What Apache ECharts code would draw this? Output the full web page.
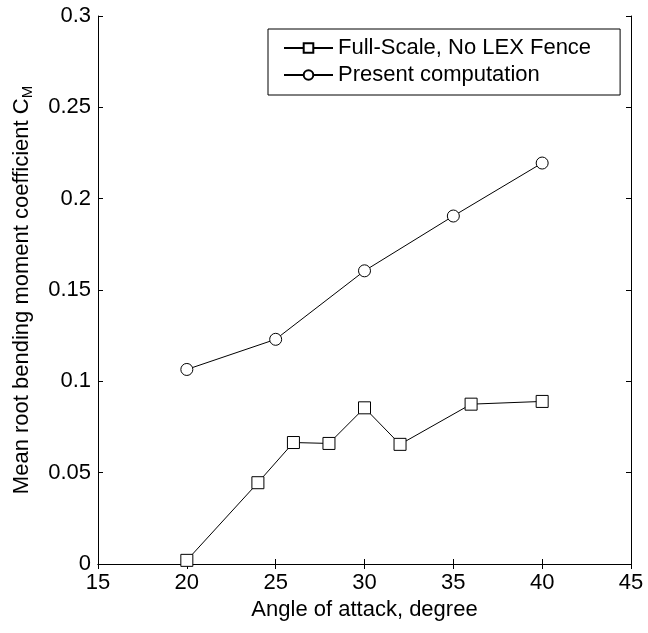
<!DOCTYPE html>
<html lang="en">
<head>
	<meta charset="UTF-8">
	<title>Root bending moment</title>
	<style>
		body { margin: 0; background: #fff; }
	</style>
</head>
<body>
	<div id="chart" style="width: 648px; height: 633px;"></div>
	<script src="https://cdn.jsdelivr.net/npm/echarts@6/dist/echarts.min.js"></script>
	<script>
		// values
		const fullScaleAlpha = [20, 24, 26, 28, 30, 32, 36, 40];
		const fullScaleCM = [0.002, 0.0445, 0.0665, 0.066, 0.0855, 0.0655, 0.0875, 0.089];
		const presentAlpha = [20, 25, 30, 35, 40];
		const presentCM = [0.1065, 0.123, 0.1605, 0.1905, 0.2195];
		const xTicks = [15, 20, 25, 30, 35, 40, 45];
		const yTicks = [0, 0.05, 0.1, 0.15, 0.2, 0.25, 0.3];

		const font = 'Liberation Sans, Arial, sans-serif';
		const black = '#000';

		const chart = echarts.init(document.getElementById('chart'));

		const boxAxis = {
			axisLine: { show: true, lineStyle: { color: black, width: 1 } },
			axisTick: { show: true, inside: true, length: 5, lineStyle: { color: black } },
			splitLine: { show: false }
		};

		const option = {
			animation: false,
			backgroundColor: '#fff',
			textStyle: { fontFamily: font, color: black },
			grid: { left: 98, right: 17, top: 16, bottom: 69 },
			legend: {
				orient: 'vertical',
				left: 268,
				top: 29,
				backgroundColor: '#fff',
				borderColor: black,
				borderWidth: 1,
				borderRadius: 0,
				padding: [8, 29, 9, 15],
				itemWidth: 49,
				itemHeight: 12,
				itemGap: 5,
				textStyle: { fontSize: 22, lineHeight: 22, color: black, fontFamily: font }
			},
			xAxis: [
				Object.assign({
					type: 'value', min: xTicks[0], max: xTicks[xTicks.length - 1], interval: 5,
					position: 'bottom',
					axisLabel: { fontSize: 22, color: black, margin: 8 },
					name: 'Angle of attack, degree',
					nameLocation: 'middle',
					nameGap: 35,
					nameTextStyle: { fontSize: 22, color: black }
				}, boxAxis),
				Object.assign({
					type: 'value', min: xTicks[0], max: xTicks[xTicks.length - 1], interval: 5,
					position: 'top',
					axisLabel: { show: false }
				}, boxAxis)
			],
			yAxis: [
				Object.assign({
					type: 'value', min: yTicks[0], max: yTicks[yTicks.length - 1], interval: 0.05,
					position: 'left',
					axisLabel: { fontSize: 22, color: black, margin: 7 },
					name: '{n|Mean root bending moment coefficient C}{s|M}',
					nameLocation: 'middle',
					nameGap: 63,
					nameTextStyle: {
						rich: {
							n: { fontSize: 22, color: black, fontFamily: font },
							s: { fontSize: 15, color: black, fontFamily: font, verticalAlign: 'bottom', padding: [12, 0, 0, 0] }
						}
					}
				}, boxAxis),
				Object.assign({
					type: 'value', min: yTicks[0], max: yTicks[yTicks.length - 1], interval: 0.05,
					position: 'right',
					axisLabel: { show: false }
				}, boxAxis)
			],
			series: [
				{
					name: 'Full-Scale, No LEX Fence',
					type: 'line',
					data: fullScaleAlpha.map((a, i) => [a, fullScaleCM[i]]),
					symbol: 'rect',
					symbolSize: 12,
					lineStyle: { color: black, width: 1 },
					itemStyle: { color: '#fff', borderColor: black, borderWidth: 1 }
				},
				{
					name: 'Present computation',
					type: 'line',
					data: presentAlpha.map((a, i) => [a, presentCM[i]]),
					symbol: 'circle',
					symbolSize: 12,
					lineStyle: { color: black, width: 1 },
					itemStyle: { color: '#fff', borderColor: black, borderWidth: 1 }
				}
			]
		};

		chart.setOption(option);
	</script>
</body>
</html>
